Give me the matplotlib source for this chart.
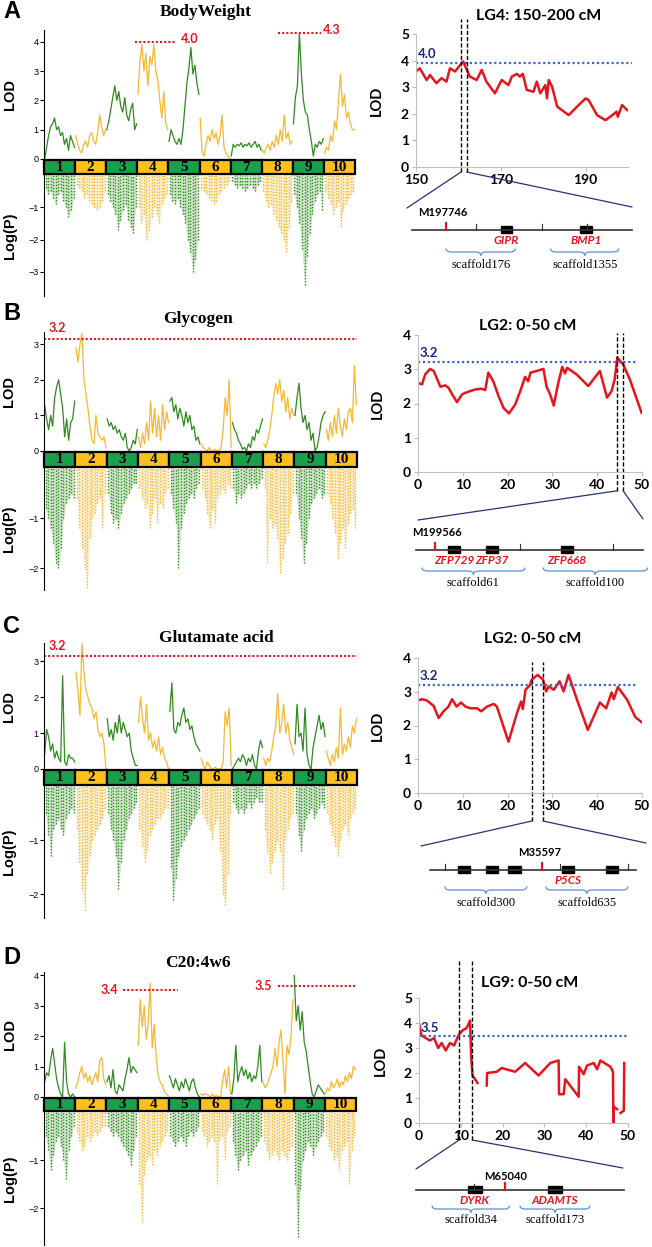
import numpy as np
import matplotlib.pyplot as plt
from matplotlib.patches import Rectangle, PathPatch, ConnectionPatch
from matplotlib.path import Path

plt.rcParams['font.family'] = ['Liberation Sans', 'DejaVu Sans']

# ---------------- data: genome-wide LOD (per linkage group) ----------------
bw_lod = [
    [0.0, 0.4, 0.8, 1.1, 1.2, 1.4, 1.0, 1.1, 0.8, 0.9, 0.5, 0.7, 0.3, 0.8, 0.6, 0.4],
    [0.8, 0.5, 0.3, 0.2, 0.5, 0.6, 0.4, 0.8, 0.9, 0.6, 0.5, 0.9, 1.5, 1.1, 0.8, 1.0],
    [1.0, 1.3, 1.7, 2.1, 2.5, 2.0, 2.3, 1.8, 1.6, 2.1, 1.5, 1.3, 1.7, 1.9, 1.0, 1.2],
    [2.2, 3.3, 3.9, 3.0, 3.6, 2.5, 3.5, 3.2, 3.9, 3.0, 2.7, 2.0, 1.4, 2.3, 1.2, 1.0],
    [0.6, 1.0, 0.8, 0.6, 0.5, 0.7, 0.5, 1.0, 1.8, 2.6, 3.1, 3.8, 2.9, 3.2, 2.6, 2.2],
    [1.4, 0.2, 0.1, 0.5, 0.8, 0.6, 1.0, 0.7, 0.9, 0.5, 0.8, 1.5, 0.4, 0.2, 0.1, 0.0],
    [0.1, 0.5, 0.4, 0.5, 0.45, 0.55, 0.4, 0.5, 0.45, 0.55, 0.4, 0.5, 0.6, 0.4, 0.5, 0.3],
    [0.3, 0.2, 0.4, 0.5, 0.3, 0.6, 0.4, 0.8, 0.5, 1.0, 0.6, 1.5, 0.7, 0.9, 0.5, 0.6],
    [1.2, 2.1, 2.5, 4.3, 2.9, 2.0, 1.6, 1.5, 1.0, 0.6, 0.1, 0.5, 0.4, 0.6, 0.5, 0.7],
    [0.2, 0.4, 0.3, 0.8, 0.6, 1.3, 1.0, 2.0, 2.9, 1.8, 2.2, 1.4, 1.6, 1.2, 1.0, 1.0],
]
bw_logp = [
    [-0.4, -0.6, -0.5, -0.7, -0.9, -0.6, -0.5, -0.8, -1.0, -1.3, -1.1, -0.7],
    [-0.3, -0.4, -0.5, -0.7, -0.6, -0.8, -0.9, -1.0, -1.1, -1.0, -0.8, -0.5],
    [-0.6, -0.8, -1.0, -1.2, -1.7, -1.4, -1.1, -0.9, -1.4, -1.6, -1.8, -1.0],
    [-1.0, -1.5, -1.2, -2.0, -1.7, -1.3, -1.0, -1.2, -1.5, -0.9, -0.7, -0.6],
    [-0.6, -0.8, -0.9, -0.7, -1.0, -1.2, -1.5, -2.0, -2.4, -3.0, -2.6, -2.0],
    [-0.4, -0.5, -0.6, -0.7, -0.8, -0.9, -0.8, -0.6, -0.5, -0.4, -0.3, -0.2],
    [-0.2, -0.3, -0.4, -0.3, -0.4, -0.5, -0.4, -0.3, -0.4, -0.5, -0.3, -0.2],
    [-0.5, -0.8, -1.0, -0.9, -1.2, -1.4, -1.6, -1.8, -2.0, -2.4, -1.6, -0.8],
    [-0.6, -1.0, -1.5, -2.3, -3.4, -2.5, -1.8, -1.2, -0.8, -0.6, -0.5, -1.1],
    [-0.5, -0.7, -0.9, -1.2, -1.0, -0.8, -1.6, -1.1, -0.9, -0.7, -0.6, -0.5],
]
gly_lod = [
    [1.3, 0.9, 0.6, 1.0, 0.7, 1.5, 1.8, 2.0, 1.6, 1.2, 0.4, 0.9, 0.3, 0.8, 0.9, 1.4],
    [2.9, 2.5, 3.0, 3.3, 2.0, 1.6, 1.2, 0.7, 0.3, 0.2, 1.0, 0.5, 0.4, 0.3, 0.4, 0.1],
    [0.9, 0.7, 0.8, 0.6, 0.7, 0.5, 0.6, 0.4, 0.3, 0.5, 0.1, 0.0, 0.1, 0.3, 0.2, 0.6],
    [0.4, 0.1, 0.5, 0.2, 0.8, 0.3, 1.4, 0.5, 1.2, 0.4, 1.0, 0.3, 1.3, 0.6, 1.1, 0.8],
    [1.4, 1.5, 1.1, 1.3, 0.9, 1.2, 1.0, 0.7, 1.1, 0.8, 1.0, 0.6, 0.7, 0.3, 0.4, 0.2],
    [0.2, 0.1, 0.05, 0.0, 0.1, 0.0, 0.0, 0.05, 0.0, 0.0, 0.1, 0.6, 1.5, 1.0, 2.0, 0.1],
    [0.8, 0.6, 0.5, 0.3, 0.2, 0.05, 0.1, 0.0, 0.2, 0.1, 0.4, 0.3, 0.6, 0.5, 0.7, 0.9],
    [0.2, 0.1, 0.3, 0.6, 1.0, 1.5, 1.9, 1.6, 2.0, 1.4, 1.7, 1.1, 1.5, 0.9, 1.2, 1.0],
    [1.0, 1.5, 1.9, 1.2, 0.8, 1.0, 0.6, 0.8, 0.3, 0.5, 0.0, 0.1, 0.4, 0.8, 1.0, 1.1],
    [0.6, 0.3, 0.8, 0.4, 1.0, 0.5, 1.2, 0.7, 0.4, 0.9, 0.6, 1.1, 1.2, 0.8, 2.4, 1.3],
]
gly_logp = [
    [-0.8, -1.0, -1.2, -1.5, -1.9, -2.0, -1.6, -1.0, -0.7, -0.6, -0.5, -0.6],
    [-0.6, -1.2, -1.6, -2.0, -2.4, -1.4, -1.0, -0.9, -0.7, -0.6, -1.2, -0.5],
    [-0.5, -0.9, -1.1, -1.0, -1.2, -0.9, -0.7, -0.6, -0.5, -0.4, -0.3, -0.3],
    [-0.4, -0.6, -0.8, -0.7, -1.2, -0.9, -0.6, -1.1, -0.7, -0.8, -0.5, -0.4],
    [-0.5, -0.8, -1.1, -2.0, -1.2, -0.9, -0.7, -0.6, -0.5, -0.6, -0.4, -0.3],
    [-0.4, -0.6, -0.9, -1.2, -0.8, -1.1, -0.6, -0.5, -0.4, -0.5, -0.3, -0.4],
    [-0.4, -0.7, -0.5, -0.6, -0.5, -0.4, -0.3, -0.4, -0.3, -0.4, -0.3, -0.2],
    [-0.4, -1.9, -1.0, -1.2, -1.1, -1.4, -2.1, -1.8, -1.5, -1.3, -0.9, -0.5],
    [-0.5, -1.0, -1.4, -1.9, -1.5, -1.0, -0.7, -0.6, -0.5, -0.4, -0.6, -0.5],
    [-0.5, -0.7, -1.0, -1.3, -1.8, -1.5, -1.2, -1.6, -1.1, -0.9, -0.8, -1.2],
]
glu_lod = [
    [0.4, 1.1, 0.9, 0.5, 0.7, 0.3, 0.5, 0.3, 0.2, 2.6, 0.2, 0.1, 0.4, 0.3, 0.3, 0.2],
    [2.7, 2.2, 1.5, 3.5, 2.7, 2.2, 2.0, 1.8, 1.7, 1.4, 1.6, 1.1, 0.9, 1.0, 0.7, 0.0],
    [1.4, 0.9, 1.1, 0.8, 1.3, 1.0, 1.5, 1.0, 1.3, 1.1, 0.9, 1.0, 0.5, 0.3, 0.1, 0.1],
    [1.3, 2.0, 1.4, 1.0, 1.8, 0.8, 1.0, 0.6, 0.8, 0.5, 0.9, 0.4, 0.6, 0.3, 0.2, 0.0],
    [1.6, 2.4, 1.1, 1.0, 1.3, 1.2, 1.5, 1.7, 1.3, 1.4, 1.1, 1.2, 0.9, 0.7, 0.6, 0.5],
    [0.3, 0.1, 0.0, 0.2, 0.1, 0.0, 0.0, 0.05, 0.0, 0.0, 0.0, 0.2, 1.6, 1.2, 1.7, 0.1],
    [0.0, 0.1, 0.2, 0.3, 0.2, 0.4, 0.3, 0.1, 0.3, 0.2, 0.4, 0.1, 0.0, 0.5, 0.8, 0.6],
    [0.3, 0.1, 0.3, 0.2, 0.5, 0.9, 1.2, 2.1, 1.0, 1.3, 1.8, 1.0, 1.3, 0.8, 0.6, 0.4],
    [0.7, 1.8, 0.9, 1.0, 0.5, 1.7, 0.4, 0.1, 0.0, 0.6, 0.9, 1.2, 1.5, 1.1, 1.3, 0.9],
    [0.5, 0.3, 0.1, 0.4, 0.2, 0.6, 0.3, 1.7, 0.4, 0.7, 0.5, 0.9, 0.6, 1.2, 1.0, 1.4],
]
glu_logp = [
    [-0.5, -0.9, -1.3, -0.8, -0.7, -0.6, -0.8, -0.9, -0.6, -0.5, -0.4, -0.5],
    [-0.8, -1.4, -1.9, -2.3, -1.6, -1.3, -1.0, -0.9, -0.8, -0.7, -0.6, -0.4],
    [-0.5, -0.8, -1.0, -1.3, -1.9, -1.4, -1.0, -0.8, -0.6, -0.5, -0.4, -0.3],
    [-0.8, -1.1, -1.4, -1.2, -0.9, -0.8, -0.7, -0.6, -0.6, -0.5, -0.4, -0.4],
    [-1.5, -2.1, -1.7, -1.3, -1.1, -1.0, -0.9, -0.8, -0.7, -0.6, -0.5, -0.4],
    [-0.5, -0.6, -0.7, -0.8, -1.0, -0.7, -0.6, -1.2, -2.0, -2.2, -1.6, -0.5],
    [-0.3, -0.4, -0.5, -0.4, -0.5, -0.4, -0.3, -0.4, -0.3, -0.2, -0.3, -0.3],
    [-0.8, -1.2, -1.6, -1.4, -1.2, -1.0, -1.2, -1.9, -1.0, -0.8, -0.6, -0.5],
    [-0.5, -0.9, -1.2, -0.8, -0.6, -0.5, -0.4, -0.6, -0.5, -0.4, -0.3, -0.4],
    [-0.5, -0.7, -0.9, -1.1, -1.3, -1.0, -0.8, -0.7, -0.9, -0.6, -0.5, -0.4],
]
c20_lod = [
    [0.5, 0.8, 0.7, 1.2, 1.6, 1.1, 0.6, 0.3, 0.1, 0.0, 1.8, 0.5, 0.1, 0.0, 0.1, 0.0],
    [0.3, 0.5, 0.8, 1.0, 0.6, 0.8, 0.5, 0.7, 0.4, 0.6, 0.8, 0.5, 1.2, 1.3, 0.6, 0.4],
    [0.5, 0.7, 0.3, 0.9, 0.2, 0.1, 0.4, 0.3, 0.2, 0.6, 0.9, 1.3, 0.8, 1.0, 0.9, 0.8],
    [1.7, 3.2, 2.3, 3.0, 1.9, 2.4, 3.75, 1.6, 2.4, 1.3, 0.7, 0.5, 0.4, 0.2, 0.1, 0.05],
    [0.7, 0.5, 0.3, 0.6, 0.4, 0.2, 0.5, 0.3, 0.6, 0.4, 0.2, 0.5, 0.6, 0.3, 0.1, 0.0],
    [0.1, 0.05, 0.1, 0.1, 0.05, 0.0, 0.1, 0.0, 0.05, 0.0, 0.0, 0.5, 0.9, 0.3, 1.0, 0.1],
    [0.1, 0.6, 1.7, 0.5, 0.8, 1.0, 0.7, 0.9, 0.6, 0.8, 0.5, 0.7, 0.6, 1.0, 1.7, 0.5],
    [0.5, 0.3, 0.4, 0.6, 0.8, 1.0, 1.6, 1.0, 1.8, 2.2, 1.2, 0.1, 1.7, 1.4, 2.0, 3.2],
    [4.0, 2.5, 3.0, 2.2, 2.8, 1.8, 1.5, 1.0, 0.5, 0.1, 0.0, 0.2, 0.4, 0.3, 0.2, 0.1],
    [0.1, 0.3, 0.2, 0.5, 0.3, 0.4, 0.6, 0.3, 0.5, 0.4, 0.7, 0.5, 0.8, 0.6, 1.0, 0.9],
]
c20_logp = [
    [-0.5, -0.8, -1.2, -0.9, -0.6, -0.5, -0.7, -1.0, -1.4, -0.8, -0.5, -0.3],
    [-0.4, -0.6, -0.8, -0.7, -0.5, -0.6, -0.5, -0.4, -0.5, -0.4, -0.3, -0.3],
    [-0.3, -0.4, -0.5, -0.4, -0.5, -0.6, -0.7, -0.8, -0.9, -1.1, -0.8, -0.5],
    [-1.5, -2.3, -1.3, -1.0, -0.9, -1.1, -0.8, -0.9, -0.7, -0.6, -0.5, -0.4],
    [-0.5, -0.6, -0.7, -0.6, -0.5, -0.6, -0.7, -0.5, -0.4, -0.5, -0.4, -0.3],
    [-0.4, -0.5, -0.7, -0.6, -0.5, -0.6, -1.5, -0.6, -0.5, -1.0, -0.4, -0.3],
    [-0.6, -0.9, -1.2, -1.0, -0.9, -0.8, -1.1, -0.9, -0.8, -0.7, -0.6, -0.5],
    [-0.6, -0.8, -1.0, -0.9, -0.8, -0.9, -1.0, -0.8, -0.9, -1.0, -0.8, -0.7],
    [-1.5, -2.6, -1.6, -1.0, -0.8, -0.6, -0.7, -0.9, -0.7, -0.6, -0.5, -0.4],
    [-0.5, -0.7, -0.8, -1.0, -0.9, -1.2, -0.8, -0.7, -0.6, -1.5, -0.8, -0.5],
]

# ---------------- data: fine-mapped region ----------------
bw_cm = [150.0, 150.9, 152.5, 153.3, 154.8, 156.0, 157.2, 158.0, 159.2, 161.1, 162.7, 164.3,
         165.5, 166.6, 168.6, 170.2, 171.8, 172.6, 173.8, 174.5, 175.2, 176.1, 177.7, 178.5,
         179.3, 180.5, 180.9, 181.3, 182.1, 183.3, 186.0, 188.0, 190.0, 190.7, 192.7, 194.7,
         196.3, 197.3, 197.6, 198.6, 199.8]
bw_region = [3.59, 3.71, 3.27, 3.46, 3.15, 3.34, 3.21, 3.71, 3.59, 3.97, 3.4, 3.27,
             3.65, 3.21, 2.77, 3.27, 3.08, 3.4, 3.5, 3.4, 3.5, 2.9, 2.83, 3.21,
             2.77, 3.08, 2.58, 3.27, 3.02, 2.27, 1.95, 2.27, 2.58, 2.52, 1.95, 1.76,
             1.95, 2.08, 1.89, 2.33, 2.14]
gly_cm = [0, 0.9, 1.6, 2.7, 3.5, 5.0, 6.1, 6.8, 7.8, 8.7, 9.8, 10.5, 11.6, 12.8, 14.2, 15.0,
          15.7, 16.8, 18.0, 19.1, 20.3, 21.7, 23.1, 23.9, 24.6, 25.1, 26.5, 28.0, 28.7, 29.5,
          30.3, 31.3, 32.2, 32.8, 33.3, 35.4, 38.0, 40.6, 42.2, 43.2, 43.9, 44.5, 45.8, 47.3, 49.9]
gly_region = [2.6, 2.56, 2.85, 3.01, 2.95, 2.49, 2.53, 2.46, 2.23, 2.04, 2.26, 2.31, 2.36, 2.41,
              2.43, 2.39, 2.9, 2.65, 2.21, 1.87, 1.71, 1.97, 2.46, 2.78, 2.65, 2.9, 2.95, 3.01,
              2.49, 2.26, 1.94, 2.6, 3.07, 2.88, 3.04, 2.85, 2.51, 2.95, 2.17, 2.36, 2.7, 3.34,
              3.14, 2.7, 1.73]
glu_cm = [0, 0.9, 2.0, 3.5, 4.6, 5.7, 6.8, 7.6, 8.6, 9.6, 10.6, 11.7, 13.2, 14.1, 15.4, 16.9,
          17.6, 20.2, 22.1, 23.0, 23.4, 24.0, 24.9, 25.4, 26.7, 27.9, 28.6, 29.2, 30.3, 31.6,
          32.5, 33.6, 35.5, 37.9, 40.6, 42.0, 43.2, 43.7, 44.6, 46.7, 48.5, 50.0]
glu_region = [2.74, 2.78, 2.74, 2.58, 2.22, 2.42, 2.56, 2.78, 2.56, 2.68, 2.56, 2.51, 2.51, 2.42,
              2.56, 2.64, 2.56, 1.52, 2.37, 2.71, 2.49, 3.06, 3.18, 3.36, 3.5, 3.36, 3.01, 3.16,
              3.06, 3.31, 3.01, 3.5, 2.76, 1.87, 2.68, 2.51, 2.98, 2.78, 3.14, 2.76, 2.25, 2.09]
c20_cm = [0, 0.6, 1.6, 2.6, 3.6, 4.6, 5.4, 6.4, 7.4, 8.4, 9.4, 10.4, 11.4, 12.2, 12.5, 12.8,
          14.0, np.nan, 16.2, 16.3, 18.6, 19.8, 23.0, 25.4, 28.6, 31.4, 33.4, 33.5, 34.6, 35.0,
          38.2, 38.3, 39.4, 40.2, 41.8, 42.6, 43.4, 45.8, 46.4, 46.5, 46.6, 47.4, np.nan, 48.2,
          49.0, 49.1]
c20_region = [4.0, 3.5, 3.4, 3.3, 3.4, 3.0, 3.2, 2.9, 3.2, 3.1, 3.5, 3.7, 3.8, 4.1, 2.6, 1.9,
              1.6, np.nan, 1.5, 2.0, 2.05, 2.2, 2.05, 2.4, 1.9, 2.4, 2.5, 1.15, 1.15, 1.75,
              1.05, 2.25, 1.95, 2.3, 2.4, 2.15, 2.5, 2.25, 2.05, 0.0, 0.65, 0.55, np.nan, 0.4,
              0.5, 2.4]

# ---------------- data: gene maps (0-100 along the drawn segment) ----------------
bw_genes, bw_gene_start, bw_gene_end = ['GIPR', 'BMP1'], [40.5, 76.4], [45.5, 81.8]
bw_marker, bw_marker_pos, bw_breaks = 'M197746', 15.5, [29, 59, 79.5]
bw_scaf, bw_scaf_start, bw_scaf_end = ['scaffold176', 'scaffold1355'], [15.5, 63], [47, 94]

gly_genes, gly_gene_start, gly_gene_end = ['ZFP729', 'ZFP37', 'ZFP668'], [14, 31, 64], [19.4, 36, 69]
gly_marker, gly_marker_pos, gly_breaks = 'M199566', 8.4, [46, 87]
gly_scaf, gly_scaf_start, gly_scaf_end = ['scaffold61', 'scaffold100'], [2.6, 56], [48, 102]

glu_genes = ['', '', '', 'P5CS', '']
glu_gene_start, glu_gene_end = [13.6, 27, 37.9, 64, 85.4], [19.4, 33, 44.2, 70, 91.3]
glu_marker, glu_marker_pos, glu_breaks = 'M35597', 54.4, [7.3, 63, 96]
glu_scaf, glu_scaf_start, glu_scaf_end = ['scaffold300', 'scaffold635'], [7.3, 56.3], [47, 96]

c20_genes, c20_gene_start, c20_gene_end = ['DYRK', 'ADAMTS'], [25, 63.5], [31.7, 70]
c20_marker, c20_marker_pos, c20_breaks = 'M65040', 43, [28]
c20_scaf, c20_scaf_start, c20_scaf_end = ['scaffold34', 'scaffold173'], [7.7, 50], [45, 83.6]

# ---------------- styling ----------------
W, H = 652, 1247
GREEN, ORANGE = '#2e8b1e', '#f7b731'
BOX_G, BOX_Y = '#1aa04c', '#ffbf1c'
RED, BLUE, NAVY, LINK = '#e8141c', '#3c64d2', '#1c2680', '#26336e'
SANS = ['Lato', 'DejaVu Sans']

fig = plt.figure(figsize=(W / 100, H / 100), dpi=100)


def box(x0, y0, x1, y1):
    return fig.add_axes([x0 / W, 1 - y1 / H, (x1 - x0) / W, (y1 - y0) / H])


def manhattan(px, lod, logp, lod_top, neg_bottom, lod_ticks, neg_ticks, title, title_xy, thr):
    x0, top, x1, zero, bar_bot, bottom = px
    at = box(x0, top, x1, zero)
    ab = box(x0, zero, x1, bar_bot)
    an = box(x0, bar_bot, x1, bottom)
    for k in range(10):
        col = GREEN if k % 2 == 0 else ORANGE
        v = lod[k]
        at.plot(k + np.linspace(0.02, 0.98, len(v)), v, color=col, lw=0.9)
        d = logp[k]
        xd = k + np.linspace(0.05, 0.95, len(d))
        an.fill_between(xd, d, 0, color=col, alpha=0.22, lw=0)
        an.vlines(xd, d, 0, colors=col, linestyles=(0, (1, 1.2)), lw=1.0)
        ab.add_patch(Rectangle((k, 0.05), 1, 0.9, fc=BOX_G if k % 2 == 0 else BOX_Y,
                               ec='black', lw=1.6, clip_on=False))
        ab.text(k + 0.5, 0.48, str(k + 1), ha='center', va='center', fontsize=11,
                fontweight='bold', family='Liberation Serif')
    for a in (at, ab, an):
        a.set_xlim(0, 10)
        a.set_xticks([])
        for s in ('top', 'right', 'bottom'):
            a.spines[s].set_visible(False)
        a.tick_params(axis='y', length=3, width=0.8, labelsize=6.5, pad=1)
        a.patch.set_alpha(0)
    at.set_ylim(0, lod_top)
    at.set_yticks(lod_ticks)
    ab.set_ylim(0, 1)
    ab.set_yticks([])
    an.set_ylim(neg_bottom, 0)
    an.set_yticks(neg_ticks)
    at.set_ylabel('LOD', fontsize=10.5, fontweight='bold')
    an.set_ylabel('Log(P)', fontsize=10.5, fontweight='bold')
    at.yaxis.set_label_coords(-0.088, 0.5)
    an.yaxis.set_label_coords(-0.088, 0.5)
    for xa, xb, y, lab, lx, ly in thr:
        at.plot([xa, xb], [y, y], color=RED, ls=(0, (1, 1)), lw=1.5, clip_on=False)
        at.text(lx, ly, lab, color=RED, fontsize=9, fontweight='bold', ha='left',
                va='center', family=SANS)
    fig.text(title_xy[0] / W, 1 - title_xy[1] / H, title, ha='center', va='center',
             fontsize=12.5, fontweight='bold', family='Liberation Serif')


def region(px, cm, lod, xlim, ylim, xticks, thr, thr_end, lab_xy, dash, dash_y, title, title_xy):
    ax = box(*px)
    ax.plot(cm, lod, color=RED, lw=1.8)
    ax.plot([xlim[0], thr_end], [thr, thr], color=BLUE, ls=(0, (1, 1.2)), lw=1.6, clip_on=False)
    ax.text(lab_xy[0], lab_xy[1], f'{thr:.1f}' if thr != 3.9 else '4.0', color=NAVY,
            fontsize=9.5, fontweight='bold', family=SANS, va='center')
    for xd in dash:
        ax.plot([xd, xd], dash_y, color='black', ls=(0, (3, 1.5)), lw=1.0, clip_on=False)
    ax.set_xlim(*xlim)
    ax.set_ylim(*ylim)
    ax.set_xticks(xticks)
    ax.set_yticks(range(ylim[1] + 1))
    for s in ('top', 'right'):
        ax.spines[s].set_visible(False)
    for s in ('left', 'bottom'):
        ax.spines[s].set_color('#bfbfbf')
    ax.tick_params(length=3, color='#bfbfbf', labelsize=10, pad=2)
    for t in ax.get_xticklabels() + ax.get_yticklabels():
        t.set_fontweight('bold')
        t.set_family(SANS)
    ax.set_ylabel('LOD', fontsize=10.5, fontweight='bold', family=SANS)
    ax.yaxis.set_label_coords(-0.15, 0.5)
    fig.text(title_xy[0] / W, 1 - title_xy[1] / H, title, ha='center', va='center',
             fontsize=11.5, fontweight='bold', family=SANS)
    return ax


def brace(ax, xa, xb, y, h=3.5, c=2.5):
    xm = (xa + xb) / 2
    verts = [(xa, y + h), (xa, y), (xa + c, y), (xm - c, y), (xm, y), (xm, y - h),
             (xm, y), (xm + c, y), (xb - c, y), (xb, y), (xb, y + h)]
    codes = [Path.MOVETO, Path.CURVE3, Path.CURVE3, Path.LINETO, Path.CURVE3, Path.CURVE3,
             Path.CURVE3, Path.CURVE3, Path.LINETO, Path.CURVE3, Path.CURVE3]
    ax.add_patch(PathPatch(Path(verts, codes), fc='none', ec='#6a9bd8', lw=1.0, clip_on=False))


def genemap(px, genes, gs, ge, marker, mpos, breaks, scaf, ss, se, ys):
    y_mark, y_gene, y_brace, y_scaf, y_mlab = ys
    ax = box(*px)
    ax.set_xlim(0, 100)
    ax.set_ylim(-50, 30)
    ax.axis('off')
    ax.plot([0, 100], [0, 0], color='#333333', lw=1.2, clip_on=False)
    for b in breaks:
        ax.plot([b, b], [0, 6], color='#333333', lw=0.8, clip_on=False)
    ax.plot([mpos, mpos], [0, 7], color=RED, lw=1.6, clip_on=False)
    ax.text(mpos + y_mark, y_mlab, marker, ha='center', va='center', fontsize=8,
            family=SANS, fontweight='bold')
    for name, a, b in zip(genes, gs, ge):
        ax.add_patch(Rectangle((a, -3), b - a, 7, fc='black', ec='black', clip_on=False))
        if name:
            ax.text((a + b) / 2, y_gene, name, ha='center', va='center', color=RED,
                    fontsize=8.5, fontweight='bold', style='italic', family=SANS)
    for name, a, b in zip(scaf, ss, se):
        brace(ax, a, b, y_brace)
        ax.text((a + b) / 2, y_scaf, name, ha='center', va='center', fontsize=9,
                family='Liberation Serif')
    return ax


def link(ax_r, ax_g, dash, ybot, ends):
    for xd, e in zip(dash, ends):
        fig.add_artist(ConnectionPatch(xyA=(xd, ybot), coordsA=ax_r.transData, xyB=e,
                                       coordsB=ax_g.transData, color=LINK, lw=0.9))


# ---------------- panel A ----------------
manhattan((44, 30, 355, 159, 175, 296), bw_lod, bw_logp, 4.4, -3.75, [0, 1, 2, 3, 4],
          [-1, -2, -3], 'BodyWeight', (206, 12),
          [(2.92, 4.2, 4.0, '4.0', 4.4, 4.1), (7.53, 8.9, 4.3, '4.3', 8.98, 4.4)])
ra = region((416, 34, 628, 167), bw_cm, bw_region, (150, 200), (0, 5), [150, 170, 190],
            3.9, 201, (150.5, 4.25), [160.6, 162.0], [-0.19, 5.56], 'LG4: 150-200 cM', (539, 16))
ga = genemap((412, 200, 632, 280), bw_genes, bw_gene_start, bw_gene_end, bw_marker,
             bw_marker_pos, bw_breaks, bw_scaf, bw_scaf_start, bw_scaf_end, (-1.5, -10, -22, -35, 18))
link(ra, ga, [160.6, 162.0], -0.19, [(-2.3, 22), (100, 23)])

# ---------------- panel B ----------------
manhattan((44, 332, 357, 451, 468, 590), gly_lod, gly_logp, 3.34, -2.44, [0, 1, 2, 3],
          [-1, -2], 'Glycogen', (198, 319), [(0, 10, 3.15, '3.2', 0.15, 3.45)])
rb = region((418, 335, 642, 472), gly_cm, gly_region, (0, 50), (0, 4), [0, 10, 20, 30, 40, 50],
            3.2, 49.2, (0.4, 3.48), [44.4, 45.8], [-0.55, 4.05], 'LG2: 0-50 cM', (528, 326))
gb = genemap((416, 520, 643, 600), gly_genes, gly_gene_start, gly_gene_end, gly_marker,
             gly_marker_pos, gly_breaks, gly_scaf, gly_scaf_start, gly_scaf_end, (1, -10, -21, -33, 18))
link(rb, gb, [44.4, 45.8], -0.55, [(0.9, 30), (100, 31)])

# ---------------- panel C ----------------
manhattan((44, 643, 357, 769, 786, 918), glu_lod, glu_logp, 3.51, -2.44, [0, 1, 2, 3],
          [-1, -2], 'Glutamate acid', (216, 638), [(0, 10, 3.15, '3.2', 0.15, 3.43)])
rc = region((418, 658, 642, 793), glu_cm, glu_region, (0, 50), (0, 4), [0, 10, 20, 30, 40, 50],
            3.2, 49.2, (0.4, 3.48), [25.4, 27.9], [-0.83, 3.88], 'LG2: 0-50 cM', (533, 639))
gc = genemap((430, 840, 636, 920), glu_genes, glu_gene_start, glu_gene_end, glu_marker,
             glu_marker_pos, glu_breaks, glu_scaf, glu_scaf_start, glu_scaf_end, (-1, -11, -20, -33, 17))
link(rc, gc, [25.4, 27.9], -0.83, [(-4.4, 24), (104.9, 27)])

# ---------------- panel D ----------------
manhattan((44, 972, 356, 1097, 1112, 1245), c20_lod, c20_logp, 4.11, -2.77, [0, 1, 2, 3, 4],
          [-1, -2], 'C20:4w6', (198, 963),
          [(2.53, 4.3, 3.52, '3.4', 1.8, 3.52), (7.5, 10, 3.65, '3.5', 6.76, 3.65)])
rd = region((419, 998, 628, 1123), c20_cm, c20_region, (0, 50), (0, 5), [0, 10, 20, 30, 40, 50],
            3.5, 50, (0.5, 3.78), [9.6, 12.7], [-0.68, 6.5], 'LG9: 0-50 cM', (530, 983))
gd = genemap((416, 1160, 624, 1240), c20_genes, c20_gene_start, c20_gene_end, c20_marker,
             c20_marker_pos, c20_breaks, c20_scaf, c20_scaf_start, c20_scaf_end, (0, -10, -19, -30, 14))
link(rd, gd, [9.6, 12.7], -0.68, [(0, 21), (99.5, 22)])

for letter, yy in (('A', 12), ('B', 313), ('C', 627), ('D', 957)):
    fig.text(3 / W, 1 - yy / H, letter, fontsize=17, fontweight='bold', va='center',
             family=['Liberation Sans', 'DejaVu Sans'])

fig.savefig('out.png', dpi=100, facecolor='white')
